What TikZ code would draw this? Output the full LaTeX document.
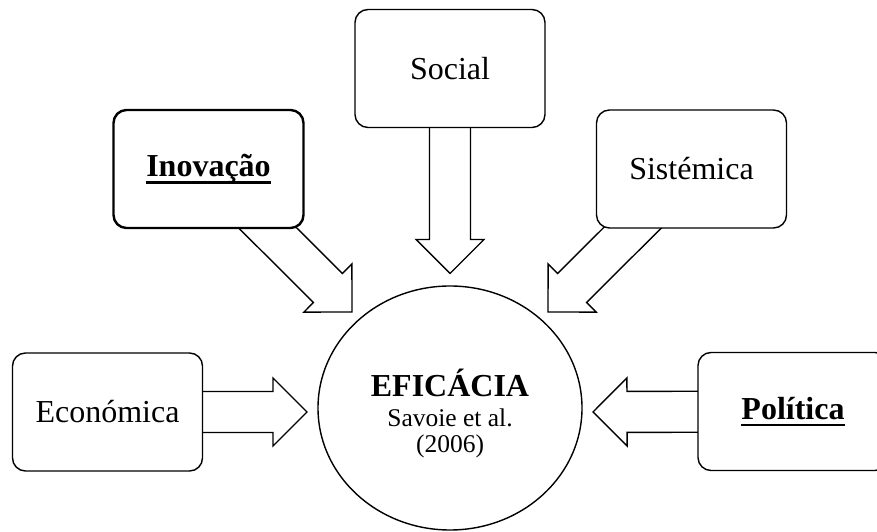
\documentclass[tikz,border=0pt]{standalone}
\usepackage{fontspec}
\setmainfont{Liberation Serif}
\usetikzlibrary{shapes.geometric,calc,backgrounds}

% bold word with a heavy underline set a little below the baseline
\newcommand\ulword[1]{\setbox0\hbox{#1}\rlap{\rule[-7pt]{\wd0}{2.2pt}}\box0}

% hollow block arrow from the centre of #1 to the point #2
\newcommand\blockarrow[2]{%
  \draw[blockarr]
    ($(#1)!20.5pt!90:(#2)$) --
    ($(#2)!34pt!(#1)!20.5pt!90:(#2)$) --
    ($(#2)!34pt!(#1)!34pt!90:(#2)$) --
    (#2) --
    ($(#2)!34pt!(#1)!34pt!-90:(#2)$) --
    ($(#2)!34pt!(#1)!20.5pt!-90:(#2)$) --
    ($(#1)!20.5pt!-90:(#2)$) -- cycle;}

\tikzset{
  dimbox/.style={draw=black, fill=white, rounded corners=13pt, line width=1.4pt,
    minimum width=190pt, minimum height=118pt, inner sep=0pt,
    font=\fontsize{32}{38}\selectfont},
  keybox/.style={dimbox, line width=2.4pt},
  blockarr/.style={draw=black, fill=white, line width=1.4pt, line join=miter},
  centre/.style={draw=black, ellipse, line width=1.4pt, minimum width=264pt,
    minimum height=244pt, inner sep=0pt},
  ctitle/.style={anchor=base, inner sep=0pt, font=\fontsize{32}{38}\selectfont\bfseries},
  cref/.style={anchor=base, inner sep=0pt, font=\fontsize{25.5}{30}\selectfont}
}

\begin{document}
\begin{tikzpicture}[x=1pt, y=1pt]
  \useasboundingbox (0,0) rectangle (877,532);

  % effectiveness at the centre
  \node[centre] (eff) at (450,124) {};
  \node[ctitle] (efft) at (450,135) {EFICÁCIA};
  \node[cref] (effa) at (450,105) {Savoie et al.};
  \node[cref] (effy) at (450,79) {(2006)};

  % the five dimensions
  \node[dimbox] (soc) at (450,463.5) {Social};
  \node[keybox] (ino) at (208.5,363) {\bfseries\ulword{Inovação}};
  \node[dimbox] (sis) at (691.5,363) {Sistémica};
  \node[dimbox] (eco) at (107.5,120) {Económica};
  \node[dimbox] (pol) at (793,120.5) {\bfseries\ulword{Política}};

  % arrow tips just short of the ellipse
  \coordinate (tipsoc) at (450,258.5);
  \coordinate (tipino) at (352,220);
  \coordinate (tipsis) at (548,220);
  \coordinate (tipeco) at (307,120);
  \coordinate (tippol) at (593,120);

  \begin{scope}[on background layer]
    \blockarrow{soc}{tipsoc}
    \blockarrow{ino}{tipino}
    \blockarrow{sis}{tipsis}
    \blockarrow{eco}{tipeco}
    \blockarrow{pol}{tippol}
  \end{scope}
\end{tikzpicture}
\end{document}
